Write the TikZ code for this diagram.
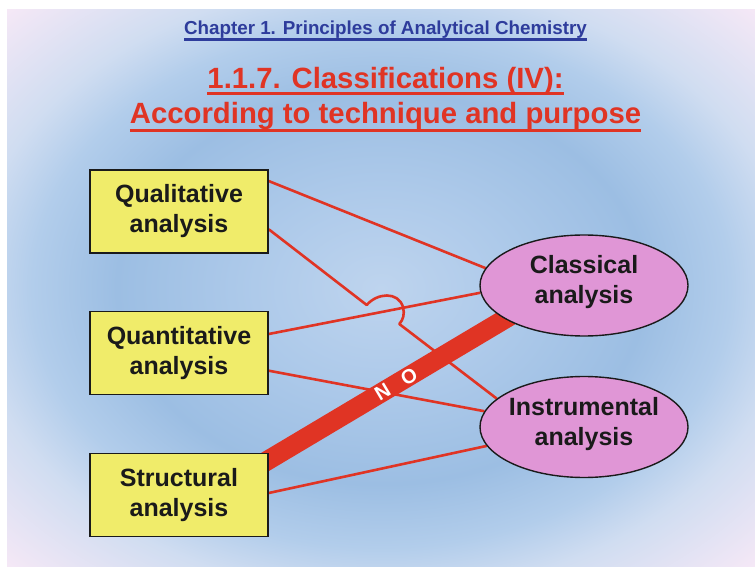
\documentclass[tikz,border=0pt]{standalone}
\usepackage{fontspec}
\setmainfont{Liberation Sans}
\usetikzlibrary{shapes.geometric,calc}
\definecolor{boxyellow}{HTML}{F0EC6A}
\definecolor{ovalpink}{HTML}{E096D6}
\definecolor{linkred}{HTML}{E03424}
\definecolor{titleblue}{HTML}{2E3C9C}
\definecolor{inkdark}{HTML}{1A1A1A}
\definecolor{bgA}{HTML}{BED4EE}
\definecolor{bgB}{HTML}{AECAEA}
\definecolor{bgC}{HTML}{9CBEE3}
\definecolor{bgD}{HTML}{B2CDEB}
\definecolor{bgE}{HTML}{D0DDF1}
\definecolor{bgF}{HTML}{F5E8F6}
\pgfdeclareradialshading{bgshade}{\pgfpoint{0bp}{0bp}}{color(0bp)=(bgA); color(6bp)=(bgB); color(12.5bp)=(bgC); color(16.5bp)=(bgD); color(19.5bp)=(bgE); color(25bp)=(bgF); color(50bp)=(bgF)}
\pgfdeclarelayer{back}
\pgfsetlayers{back,main}
\newsavebox\ulbox
\newcommand\ulx[3]{\sbox\ulbox{#3}\rlap{\rule[#1]{\wd\ulbox}{#2}}\usebox\ulbox}
\begin{document}
\begin{tikzpicture}[x=1pt,y=-1pt,
  boxnode/.style={draw=inkdark, line width=1.5pt, fill=boxyellow, minimum width=178pt, minimum height=83pt, inner sep=0pt, align=center, text=inkdark, font=\fontsize{25}{30}\selectfont\bfseries},
  ovalnode/.style={ellipse, draw=inkdark, line width=1.4pt, fill=ovalpink, minimum width=208pt, minimum height=101pt, inner sep=0pt},
  ovaltext/.style={align=center, text=inkdark, font=\fontsize{25}{30}\selectfont\bfseries, inner sep=0pt},
  link/.style={draw=linkred, line width=2.6pt},
  nobar/.style={draw=linkred, line width=19.5pt},
  notext/.style={text=white, font=\fontsize{20}{20}\selectfont\bfseries, inner sep=0pt},
  headblue/.style={text=titleblue, font=\fontsize{18.8}{22}\selectfont\bfseries, anchor=base, inner sep=0pt},
  headred/.style={text=linkred, font=\fontsize{29.3}{35}\selectfont\bfseries, anchor=base, inner sep=0pt},
]
\useasboundingbox (0,0) rectangle (755,569);
\begin{pgfonlayer}{back}
\begin{scope}
\clip (7,10) rectangle (755,566);
\shade[shading=bgshade] (-148,-105) rectangle (910,681);
\end{scope}
\end{pgfonlayer}

\node[headblue] (chap) at (385.5,35) {\ulx{-5.6pt}{2.3pt}{Chapter 1. Principles of Analytical Chemistry}};
\node[headred] (t1) at (385.5,88.3) {\ulx{-6.7pt}{3.2pt}{1.1.7. Classifications (IV):}};
\node[headred] (t2) at (385.5,123.3) {\ulx{-8.7pt}{3.2pt}{According to technique and purpose}};

\node[boxnode] (qual) at (179,211.3) {Qualitative\\analysis};
\node[boxnode] (quant) at (179,353) {Quantitative\\analysis};
\node[boxnode] (struc) at (179,495) {Structural\\analysis};

\node[ovalnode, label={[ovaltext, yshift=3pt]center:{Classical\\analysis}}] (clas) at (584,285.5) {};
\node[ovalnode, label={[ovaltext, yshift=3pt]center:{Instrumental\\analysis}}] (inst) at (584,427) {};

\coordinate (hopa) at (366.7,305);
\coordinate (hopb) at (403,307);
\coordinate (hopc) at (399.3,324);

\begin{pgfonlayer}{back}
\draw[nobar, shorten <=-25pt, shorten >=-25pt] ([yshift=-7pt]struc.north east) -- (clas.203.6);
\draw[link] ([yshift=-12pt]qual.north east) -- (clas.170.5);
\draw[link] ([yshift=19pt]quant.east) -- (clas.184.3);
\draw[link] ([yshift=-17.7pt]quant.east) -- (inst.171.2);
\draw[link] ([yshift=2pt]struc.east) -- (inst.191.4);
\draw[link, line join=round] ([yshift=-18pt]qual.east) -- (hopa)
  .. controls (377,293) and (398,291) .. (hopb)
  .. controls (405,314) and (403,320) .. (hopc) -- (inst.162.5);
\end{pgfonlayer}

\path ([yshift=-7pt]struc.north east) -- (clas.203.6)
  node[notext, pos=0.539, sloped] (notxt) {N\hspace{16pt}O};
\end{tikzpicture}
\end{document}
